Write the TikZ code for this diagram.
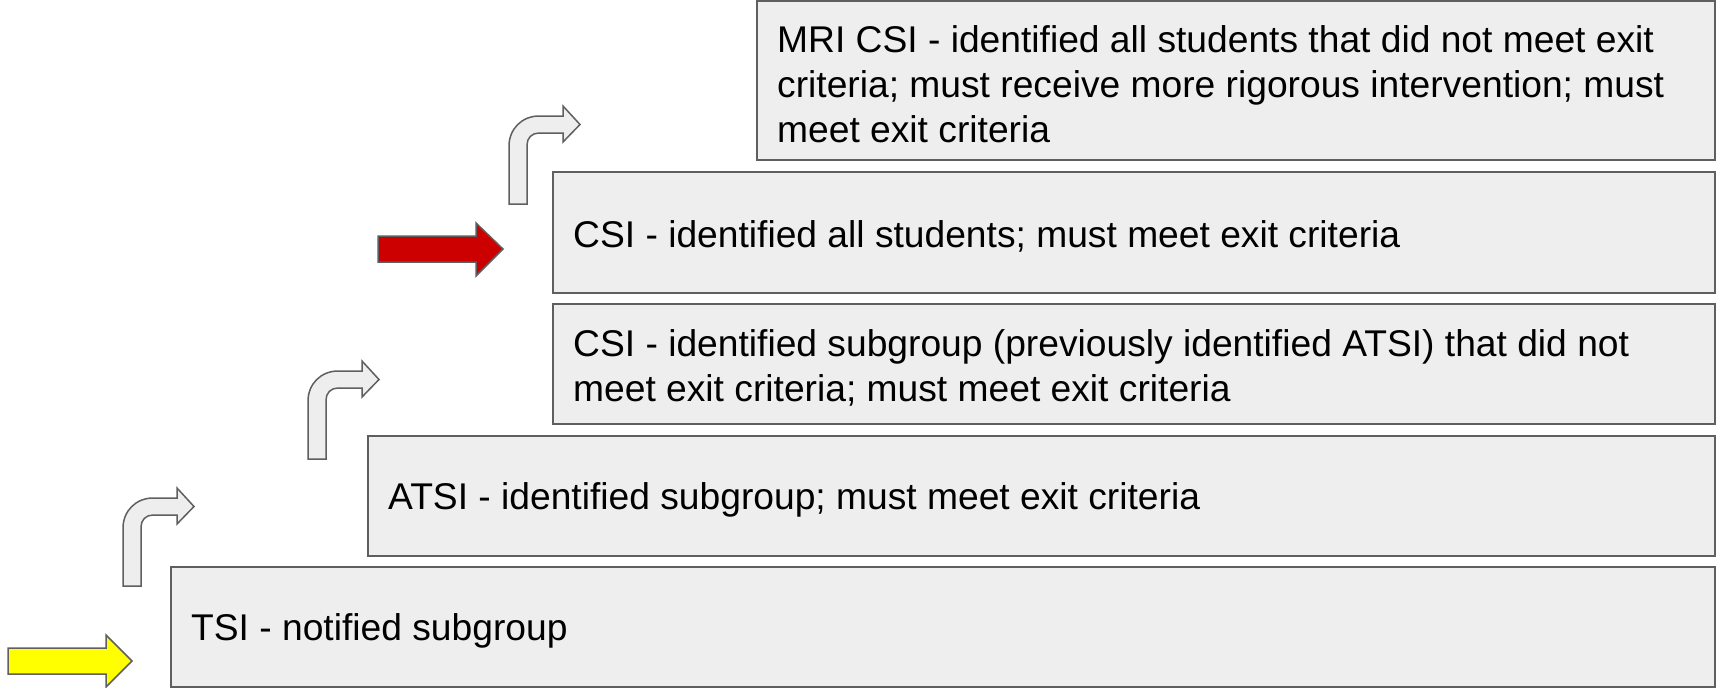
\documentclass[tikz,border=0pt]{standalone}
\usepackage{fontspec}
\setmainfont{Liberation Sans}
\definecolor{boxfill}{HTML}{EEEEEE}
\definecolor{boxline}{HTML}{5F5F5F}
\definecolor{arrred}{HTML}{CC0000}
\definecolor{arryel}{HTML}{FFFF00}
\begin{document}
\begin{tikzpicture}[x=1pt,y=-1pt,
  stepbox/.style={draw=boxline, fill=boxfill, line width=1.5pt, rectangle, anchor=north west, inner sep=0pt, outer sep=0pt},
  steptext/.style={anchor=west, align=left, inner sep=0pt, font=\fontsize{37.2}{45}\selectfont},
  bentarr/.style={draw=boxline, fill=boxfill, line width=1.5pt, line join=miter},
  flatarr/.style={draw=boxline, line width=1.5pt, line join=miter},
  pics/bent/.style={code={
    \path[bentarr] (0,0) -- (0,-58) .. controls (0,-75) and (13,-88) .. (30,-88)
      -- (54,-88) -- (54,-98) -- (71,-79.5) -- (54,-62) -- (54,-71) -- (30,-71)
      .. controls (23,-71) and (18,-66) .. (18,-59) -- (18,0) -- cycle;
  }}]
\useasboundingbox (0,0) rectangle (1717,688);

% boxes
\node[stepbox, minimum width=1544pt, minimum height=120pt] (tsi) at (171,567) {};
\node[stepbox, minimum width=1347pt, minimum height=120pt] (atsi) at (368,436) {};
\node[stepbox, minimum width=1162pt, minimum height=120pt] (csisub) at (553,304) {};
\node[stepbox, minimum width=1162pt, minimum height=121pt] (csiall) at (553,172) {};
\node[stepbox, minimum width=958pt, minimum height=159pt] (mri) at (757,1) {};

% texts
\node[steptext] (tsitxt) at ([xshift=20pt,yshift=-4pt]tsi.west) {TSI - notified subgroup};
\node[steptext] (atsitxt) at ([xshift=20pt,yshift=-4pt]atsi.west) {ATSI - identified subgroup; must meet exit criteria};
\node[steptext] (csisubtxt) at ([xshift=20pt,yshift=-4pt]csisub.west) {CSI - identified subgroup (previously identified ATSI) that did not\\meet exit criteria; must meet exit criteria};
\node[steptext] (csialltxt) at ([xshift=20pt,yshift=-4pt]csiall.west) {CSI - identified all students; must meet exit criteria};
\node[steptext] (mritxt) at ([xshift=20pt,yshift=-4pt]mri.west) {MRI CSI - identified all students that did not meet exit\\criteria; must receive more rigorous intervention; must\\meet exit criteria};

% bent arrows
\pic at (123,586) {bent};
\pic at (308,459) {bent};
\pic at (509,204) {bent};

% yellow arrow
\path[flatarr, fill=arryel] (8,648) -- (106,648) -- (106,635) -- (132,661) -- (106,687) -- (106,674) -- (8,674) -- cycle;
% red arrow
\path[flatarr, fill=arrred] (378,236) -- (476,236) -- (476,223) -- (503,249) -- (476,276) -- (476,262) -- (378,262) -- cycle;
\end{tikzpicture}
\end{document}
